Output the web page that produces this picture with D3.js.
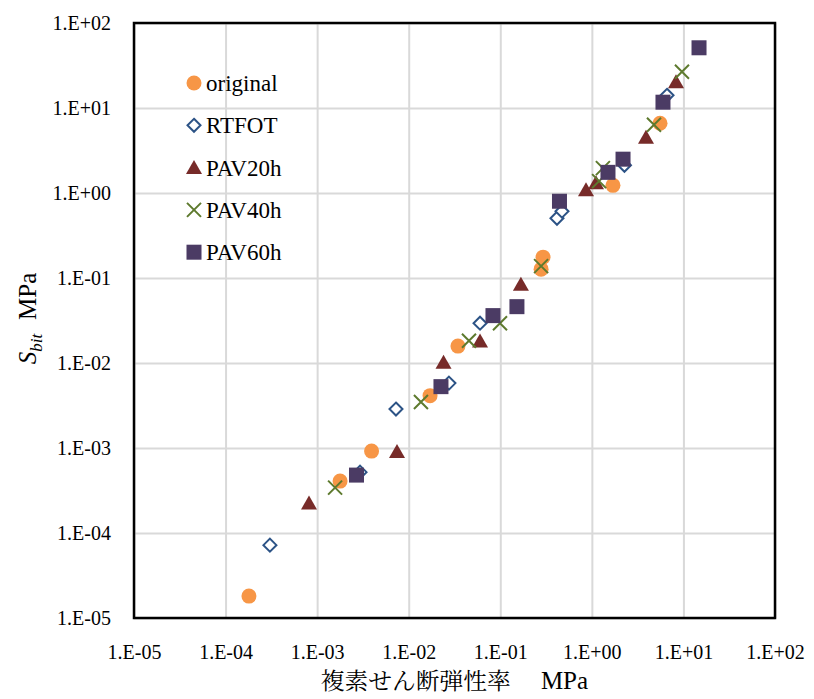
<!DOCTYPE html>
<html>
<head>
<meta charset="utf-8">
<script src="https://cdn.jsdelivr.net/npm/d3@7"></script>
<style>
body { margin: 0; background: #fff; }
svg text { font-family: "Liberation Serif", "Times New Roman", serif; fill: #000; }
</style>
</head>
<body>
<div class="plot"></div>
<script>
// tick labels (Excel style)
const tickValues = [1e-5, 1e-4, 1e-3, 1e-2, 1e-1, 1e0, 1e1, 1e2]
const tickLabels = ["1.E-05", "1.E-04", "1.E-03", "1.E-02", "1.E-01", "1.E+00", "1.E+01", "1.E+02"]
const seriesNames = ["original", "RTFOT", "PAV20h", "PAV40h", "PAV60h"]

// G* (x), Sbit (y), MPa
const originalX = [1.80e-4, 1.78e-3, 3.93e-3, 0.0171, 0.0345, 0.293, 0.279, 1.70, 5.55]
const originalY = [1.81e-5, 4.08e-4, 9.2e-4, 4.13e-3, 0.0158, 0.176, 0.127, 1.23, 6.62]
const rtfotX = [3.05e-4, 2.94e-3, 7.26e-3, 0.0275, 0.0601, 0.416, 0.472, 2.27, 6.62]
const rtfotY = [7.2e-5, 5.2e-4, 2.87e-3, 5.8e-3, 0.0294, 0.505, 0.611, 2.12, 14.1]
const pav20X = [8.15e-4, 7.45e-3, 0.024, 0.0601, 0.168, 0.863, 1.11, 3.90, 8.30]
const pav20Y = [2.25e-4, 9.1e-4, 0.0102, 0.0181, 0.0846, 1.09, 1.32, 4.53, 20.3]
const pav40X = [1.57e-3, 0.0136, 0.0455, 0.0993, 0.279, 1.20, 1.32, 4.77, 9.64]
const pav40Y = [3.42e-4, 3.47e-3, 0.0183, 0.0294, 0.138, 1.38, 1.96, 6.35, 26.7]
const pav60X = [2.69e-3, 0.0225, 0.0832, 0.152, 0.443, 1.50, 2.19, 5.98, 14.8]
const pav60Y = [4.8e-4, 5.27e-3, 0.0361, 0.046, 0.80, 1.75, 2.50, 11.7, 51.1]

const seriesX = [originalX, rtfotX, pav20X, pav40X, pav60X]
const seriesY = [originalY, rtfotY, pav20Y, pav40Y, pav60Y]
const colors = ["#f79646", "#2c5386", "#772b29", "#5e7a2e", "#4b3b64"]

let margin = {top: 23, right: 39, bottom: 81, left: 134},
    width = 814 - margin.left - margin.right,
    height = 699 - margin.top - margin.bottom

let xScale = d3.scaleLog().domain([1e-5, 1e2]).range([0, width])
let yScale = d3.scaleLog().domain([1e-5, 1e2]).range([height, 0])

let svg = d3.select(".plot")
            .append("svg")
            .attr("width", 814)
            .attr("height", 699)
            .append("g")
            .attr("transform", "translate(" + margin.left + "," + margin.top + ")")

// gridlines
svg.append("g")
   .attr("transform", "translate(0," + height + ")")
   .call(d3.axisBottom(xScale).tickValues(tickValues).tickSize(-height).tickFormat(""))
   .call(g => g.select(".domain").remove())
   .selectAll("line").attr("stroke", "#d9d9d9").attr("stroke-width", 2)
svg.append("g")
   .call(d3.axisLeft(yScale).tickValues(tickValues).tickSize(-width).tickFormat(""))
   .call(g => g.select(".domain").remove())
   .selectAll("line").attr("stroke", "#d9d9d9").attr("stroke-width", 2)

// tick labels
let xAxis = svg.append("g")
   .attr("transform", "translate(0," + height + ")")
   .call(d3.axisBottom(xScale).tickValues(tickValues).tickSize(0).tickPadding(27)
           .tickFormat((d, i) => tickLabels[i]))
xAxis.select(".domain").remove()
xAxis.selectAll("text").style("font-size", "20px")

let yAxis = svg.append("g")
   .call(d3.axisLeft(yScale).tickValues(tickValues).tickSize(0).tickPadding(23)
           .tickFormat((d, i) => tickLabels[i]))
yAxis.select(".domain").remove()
yAxis.selectAll("text").style("font-size", "20px")

// plot border
svg.append("rect")
   .attr("width", width).attr("height", height)
   .attr("fill", "none").attr("stroke", "#000").attr("stroke-width", 2.5)

// marker drawing
function drawMarker(g, k) {
  let c = colors[k]
  if (k == 0) {
    g.append("circle").attr("r", 7.5).attr("fill", c)
  } else if (k == 1) {
    g.append("path").attr("d", "M0,-6.5L6.5,0L0,6.5L-6.5,0Z")
     .attr("fill", "#fff").attr("stroke", c).attr("stroke-width", 2)
  } else if (k == 2) {
    g.append("path").attr("d", "M0,-7.5L8,6.5L-8,6.5Z").attr("fill", c)
  } else if (k == 3) {
    g.append("path").attr("d", "M-7,-7L7,7M-7,7L7,-7")
     .attr("stroke", c).attr("stroke-width", 2).attr("fill", "none")
  } else {
    g.append("rect").attr("x", -7.5).attr("y", -7.5).attr("width", 15).attr("height", 15).attr("fill", c)
  }
}

let points = svg.append("g")
seriesNames.forEach(function(name, k) {
  seriesX[k].forEach(function(xv, i) {
    let g = points.append("g")
       .attr("transform", "translate(" + xScale(xv) + "," + yScale(seriesY[k][i]) + ")")
    drawMarker(g, k)
  })
})

// legend
let legend = svg.selectAll(".legend")
   .data(seriesNames)
   .enter()
   .append("g")
   .attr("class", "legend")
   .attr("transform", (d, i) => "translate(60," + (60 + i * 42.3) + ")")
legend.each(function(d, i) { drawMarker(d3.select(this), i) })
legend.append("text")
   .attr("x", 12)
   .attr("dy", "0.35em")
   .style("font-size", "23px")
   .text(d => d)

// axis titles
let xt = svg.append("text")
   .attr("x", width / 2)
   .attr("y", height + 71)
   .attr("text-anchor", "middle")
   .style("font-size", "23px")
xt.append("tspan")
   .style("font-family", "'Noto Serif CJK JP', 'Noto Sans CJK JP', serif")
   .attr("textLength", 190).attr("lengthAdjust", "spacingAndGlyphs")
   .text("複素せん断弾性率")
xt.append("tspan").attr("dx", 30).style("font-size", "25px").text("MPa")

let yt = svg.append("text")
   .attr("transform", "translate(-98," + (height / 2 - 2) + ") rotate(-90)")
   .attr("text-anchor", "middle")
   .style("font-size", "25px")
yt.append("tspan").style("font-style", "italic").text("S")
yt.append("tspan").style("font-style", "italic").style("font-size", "17px").attr("dy", 6).text("bit")
yt.append("tspan").attr("dy", -6).attr("dx", 14).text("MPa")
</script>
</body>
</html>
